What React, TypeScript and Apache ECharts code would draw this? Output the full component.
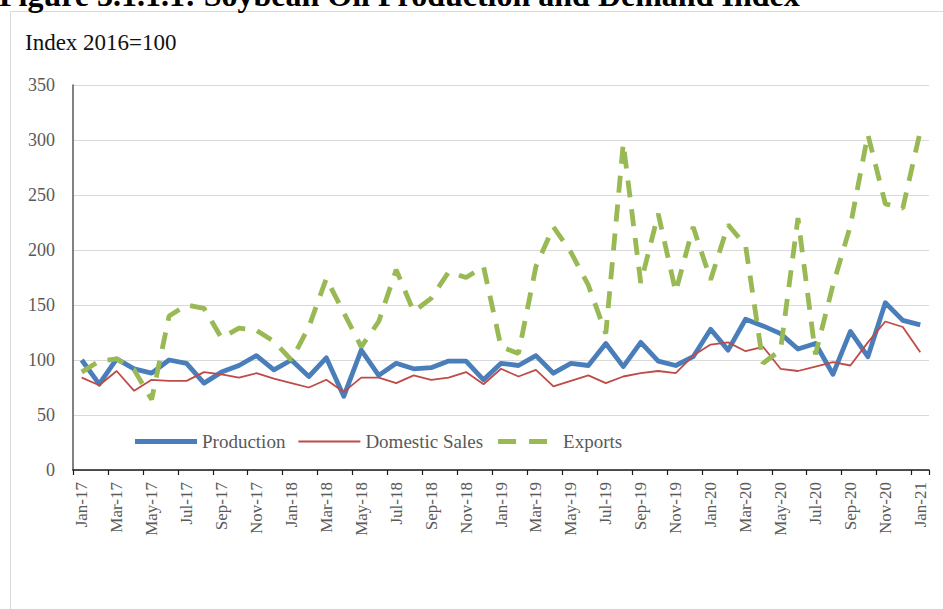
import React, { useEffect, useRef } from "react";
import * as echarts from "echarts";

const categories = [
  "Jan-17", "Feb-17", "Mar-17", "Apr-17", "May-17", "Jun-17", "Jul-17", "Aug-17", "Sep-17", "Oct-17", "Nov-17", "Dec-17",
  "Jan-18", "Feb-18", "Mar-18", "Apr-18", "May-18", "Jun-18", "Jul-18", "Aug-18", "Sep-18", "Oct-18", "Nov-18", "Dec-18",
  "Jan-19", "Feb-19", "Mar-19", "Apr-19", "May-19", "Jun-19", "Jul-19", "Aug-19", "Sep-19", "Oct-19", "Nov-19", "Dec-19",
  "Jan-20", "Feb-20", "Mar-20", "Apr-20", "May-20", "Jun-20", "Jul-20", "Aug-20", "Sep-20", "Oct-20", "Nov-20", "Dec-20",
  "Jan-21",
];

const production = [
  100, 78, 101, 92, 88, 100, 97, 79, 89, 95, 104, 91,
  100, 85, 102, 67, 109, 86, 97, 92, 93, 99, 99, 82,
  97, 95, 104, 88, 97, 95, 115, 94, 116, 99, 95, 103,
  128, 109, 137, 131, 124, 110, 115, 87, 126, 103, 152, 136,
  132,
];

const domesticSales = [
  84, 77, 90, 72, 82, 81, 81, 89, 87, 84, 88, 83,
  79, 75, 82, 71, 84, 84, 79, 86, 82, 84, 89, 78,
  92, 85, 91, 76, 81, 86, 79, 85, 88, 90, 88, 104,
  114, 116, 108, 112, 92, 90, 94, 98, 95, 116, 135, 130,
  107,
];

const exportsIndex = [
  89, 99, 101, 91, 64, 140, 150, 147, 120, 129, 127, 117,
  100, 130, 174, 143, 112, 135, 182, 144, 156, 180, 175, 185,
  112, 106, 185, 221, 198, 168, 124, 297, 170, 233, 162, 221,
  173, 223, 204, 97, 109, 229, 105, 168, 222, 305, 242, 238,
  308,
];

const seriesNames = ["Production", "Domestic Sales", "Exports"];
const yMin = 0;
const yMax = 350;
const yStep = 50;
const titleText = "Figure 3.1.1.1: Soybean Oil Production and Demand Index";
const unitText = "Index 2016=100";

const SERIF = "'Liberation Serif', 'Times New Roman', serif";

// legend icons drawn in a 62 x 14 box (tiny corner anchors keep the box size)
const ANCHORS = "M0,0 L0.01,0 L0.01,0.01 Z M62,14 L61.99,14 L61.99,13.99 Z ";
const ICON_THICK = "path://" + ANCHORS + "M0,4.6 L62,4.6 L62,9.4 L0,9.4 Z";
const ICON_THIN = "path://" + ANCHORS + "M0,6.1 L62,6.1 L62,7.9 L0,7.9 Z";
const ICON_DASH =
  "path://" + ANCHORS + "M2,4.6 L20,4.6 L20,9.4 L2,9.4 Z M33,4.6 L51,4.6 L51,9.4 L33,9.4 Z";

export default function App() {
  const ref = useRef<HTMLDivElement>(null);

  useEffect(() => {
    if (!ref.current) return;
    const chart = echarts.init(ref.current, null, { renderer: "svg" });
    chart.setOption({
      animation: false,
      backgroundColor: "#ffffff",
      textStyle: { fontFamily: SERIF },
      graphic: [
        {
          type: "rect",
          shape: { x: 10.5, y: 11.5, width: 960, height: 640 },
          style: { fill: "none", stroke: "#d9d9d9", lineWidth: 1 },
          silent: true,
        },
        {
          type: "text",
          x: -1,
          y: -5,
          style: {
            text: titleText,
            fontSize: 32,
            fontWeight: "bold",
            fontFamily: SERIF,
            fill: "#000000",
            textVerticalAlign: "middle",
          },
          silent: true,
        },
        {
          type: "text",
          x: 25,
          y: 42,
          style: {
            text: unitText,
            fontSize: 23,
            fontFamily: SERIF,
            fill: "#111111",
            textVerticalAlign: "middle",
          },
          silent: true,
        },
      ],
      grid: { left: 73, right: 14, top: 85, bottom: 139 },
      legend: {
        data: [
          { name: seriesNames[0], icon: ICON_THICK },
          { name: seriesNames[1], icon: ICON_THIN },
          { name: seriesNames[2], icon: ICON_DASH },
        ],
        left: 130,
        top: 427,
        itemWidth: 62,
        itemHeight: 14,
        itemGap: 13,
        itemStyle: { borderWidth: 0 },
        textStyle: { fontSize: 19, color: "#595959", fontFamily: SERIF },
      },
      xAxis: {
        type: "category",
        data: categories,
        boundaryGap: true,
        axisLine: { show: true, lineStyle: { color: "#1a1a1a", width: 1.5 } },
        axisTick: { show: true, interval: 1, length: 5, lineStyle: { color: "#1a1a1a", width: 1.2 } },
        axisLabel: {
          interval: 1,
          rotate: 90,
          margin: 12,
          fontSize: 17,
          color: "#595959",
          fontFamily: SERIF,
        },
        splitLine: { show: false },
      },
      yAxis: {
        type: "value",
        min: yMin,
        max: yMax,
        interval: yStep,
        axisLine: { show: true, lineStyle: { color: "#595959", width: 1.5 } },
        axisTick: { show: false },
        axisLabel: { fontSize: 18, color: "#595959", margin: 18, fontFamily: SERIF },
        splitLine: { show: true, lineStyle: { color: "#d9d9d9", width: 1 } },
      },
      series: [
        {
          name: seriesNames[0],
          type: "line",
          data: production,
          symbol: "none",
          showSymbol: false,
          color: "#4a7ebb",
          lineStyle: { color: "#4a7ebb", width: 4.8, join: "round" },
          z: 3,
        },
        {
          name: seriesNames[1],
          type: "line",
          data: domesticSales,
          symbol: "none",
          showSymbol: false,
          color: "#be4b48",
          lineStyle: { color: "#be4b48", width: 1.8 },
          z: 4,
        },
        {
          name: seriesNames[2],
          type: "line",
          data: exportsIndex,
          symbol: "none",
          showSymbol: false,
          color: "#98b954",
          lineStyle: { color: "#98b954", width: 4.8, type: [17, 12] },
          z: 5,
        },
      ],
    });
    return () => chart.dispose();
  }, []);

  return (
    <div
      ref={ref}
      style={{ position: "fixed", left: 0, top: 0, width: 943, height: 609, background: "#ffffff" }}
    />
  );
}
